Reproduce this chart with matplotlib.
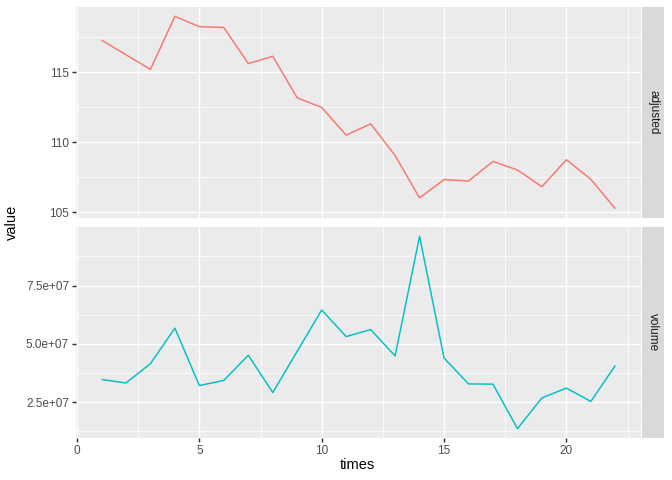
import matplotlib
matplotlib.use("Agg")
import matplotlib.pyplot as plt
import numpy as np
from matplotlib.ticker import FixedLocator, FuncFormatter

plt.rcParams['font.family'] = ['Liberation Sans', 'DejaVu Sans']

times = list(range(1, 23))
adjusted = [117.3, 116.25, 115.2, 119.0, 118.26, 118.2, 115.62, 116.14, 113.17, 112.48,
            110.5, 111.31, 109.04, 106.01, 107.32, 107.22, 108.62, 108.01, 106.81, 108.74,
            107.34, 105.24]
volume = [3.47e7, 3.32e7, 4.15e7, 5.67e7, 3.21e7, 3.43e7, 4.51e7, 2.91e7, 4.68e7, 6.45e7,
          5.31e7, 5.61e7, 4.48e7, 9.61e7, 4.39e7, 3.28e7, 3.27e7, 1.36e7, 2.68e7, 3.10e7,
          2.53e7, 4.07e7]
facets = ["adjusted", "volume"]
colors = ["#F8766D", "#00BFC4"]
x_ticks = [0, 5, 10, 15, 20]
y_ticks = [[105, 110, 115], [2.5e7, 5.0e7, 7.5e7]]
y_labels = [["105", "110", "115"], ["2.5e+07", "5.0e+07", "7.5e+07"]]

W, H = 672, 480
fig = plt.figure(figsize=(W / 100, H / 100), dpi=100)

def px(l, t, r, b):
    return [l / W, 1 - b / H, (r - l) / W, (b - t) / H]

left, right = 75.8, 641.0
panels = [(6.7, 218.3), (226.7, 438.3)]
series = [adjusted, volume]

def expand(lo, hi):
    d = (hi - lo) * 0.05
    return lo - d, hi + d

xlim = expand(min(times), max(times))
tick_col = "#333333"
lab_col = "#4D4D4D"
lw_major = 1.05
lw_minor = 0.55

for i, (top, bot) in enumerate(panels):
    ax = fig.add_axes(px(left, top, right, bot))
    ax.set_facecolor("#EBEBEB")
    for s in ax.spines.values():
        s.set_visible(False)
    ax.set_xlim(*xlim)
    ylim = expand(min(series[i]), max(series[i]))
    ax.set_ylim(*ylim)
    # grid
    yt = y_ticks[i]
    step = yt[1] - yt[0]
    ymin_grid = [v + step / 2 for v in [yt[0] - step] + yt]
    for v in ymin_grid:
        if ylim[0] <= v <= ylim[1]:
            ax.axhline(v, color="white", lw=lw_minor, zorder=0.5)
    for v in yt:
        ax.axhline(v, color="white", lw=lw_major, zorder=0.6)
    for v in [2.5, 7.5, 12.5, 17.5, 22.5]:
        ax.axvline(v, color="white", lw=lw_minor, zorder=0.5)
    for v in x_ticks:
        ax.axvline(v, color="white", lw=lw_major, zorder=0.6)
    ax.plot(times, series[i], color=colors[i], lw=1.05, zorder=2,
            solid_joinstyle="round", solid_capstyle="butt")
    ax.yaxis.set_major_locator(FixedLocator(yt))
    ax.set_yticklabels(y_labels[i])
    ax.xaxis.set_major_locator(FixedLocator(x_ticks))
    ax.tick_params(axis="both", length=2.75 * 96 / 100, width=lw_major,
                   color=tick_col, labelcolor=lab_col, labelsize=8.8 * 0.96, pad=2.2)
    if i == 0:
        ax.tick_params(axis="x", length=0, labelbottom=False)
    else:
        ax.set_xticklabels([str(v) for v in x_ticks])
    # strip
    sax = fig.add_axes(px(right + 1, top, 664.3, bot))
    sax.set_facecolor("#D9D9D9")
    sax.set_xticks([]); sax.set_yticks([])
    for s in sax.spines.values():
        s.set_visible(False)
    sax.text(0.5, 0.5, facets[i], rotation=-90, ha="center", va="center",
             color="#1A1A1A", fontsize=8.8 * 0.96, transform=sax.transAxes)

fig.text(357.5 / W, 1 - 465 / H, "times", ha="center", va="center", fontsize=11 * 0.96)
fig.text(12 / W, 1 - 222 / H, "value", ha="center", va="center", rotation=90, fontsize=11 * 0.96)

fig.savefig("out.png", dpi=100)
